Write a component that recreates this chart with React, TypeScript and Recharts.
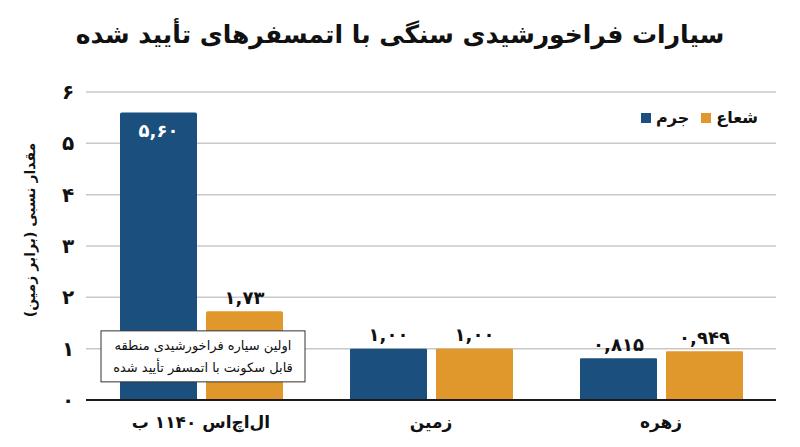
import { Bar, BarChart, CartesianGrid, LabelList, ReferenceDot, XAxis, YAxis } from "recharts";

const planets = ["ال‌اچ‌اس ۱۱۴۰ ب", "زمین", "زهره"];
const massValues = [5.6, 1.0, 0.815];
const radiusValues = [1.73, 1.0, 0.949];
const yTicks = [0, 1, 2, 3, 4, 5, 6];

const chartTitle = "سیارات فراخورشیدی سنگی با اتمسفرهای تأیید شده";
const yTitle = "مقدار نسبی (برابر زمین)";
const noteLines = ["اولین سیاره فراخورشیدی منطقه", "قابل سکونت با اتمسفر تأیید شده"];

const massColor = "#1b4f7e";
const radiusColor = "#e0982c";
const font = "'DejaVu Sans', sans-serif";

const data = planets.map((name, i) => ({ name, mass: massValues[i], radius: radiusValues[i] }));

const faDigits = "۰۱۲۳۴۵۶۷۸۹";
const toFa = (s: string) => s.replace(/\d/g, (d) => faDigits[Number(d)]).replace(".", ",");
const fmt = (v: number) => toFa(v.toFixed(v < 1 ? 3 : 2));

function ValueLabel(props: any) {
  const { x, y, width, value } = props;
  const inside = value > 4;
  return (
    <text
      x={x + width / 2}
      y={inside ? y + 18 : y - 14}
      textAnchor="middle"
      dominantBaseline="central"
      fontFamily={font}
      fontWeight={700}
      fontSize={18}
      fill={inside ? "#fff" : "#111"}
    >
      {fmt(value)}
    </text>
  );
}

function NoteBox(props: any) {
  const { cx, cy } = props;
  const w = 204;
  const h = 51;
  return (
    <g>
      <rect x={cx + 2 - w / 2} y={cy - h / 2} width={w} height={h} fill="#fff" stroke="#333" strokeWidth={1} />
      {noteLines.map((line, i) => (
        <text
          key={i}
          x={cx + 2}
          y={cy - 11 + i * 22}
          textAnchor="middle"
          dominantBaseline="central"
          direction="rtl"
          fontFamily={font}
          fontSize={13}
          fill="#111"
        >
          {line}
        </text>
      ))}
    </g>
  );
}

function LegendBox() {
  const items = [
    { label: "جرم", color: massColor },
    { label: "شعاع", color: radiusColor },
  ];
  return (
    <div
      style={{
        position: "absolute",
        left: 641,
        top: 108,
        display: "flex",
        alignItems: "center",
        gap: 12,
        fontFamily: font,
        fontWeight: 700,
        fontSize: 16,
        color: "#111",
      }}
    >
      {items.map((it) => (
        <div key={it.label} style={{ display: "flex", alignItems: "center", gap: 5 }}>
          <span style={{ width: 10, height: 10, background: it.color, display: "inline-block" }} />
          <span>{it.label}</span>
        </div>
      ))}
    </div>
  );
}

export default function App() {
  return (
    <div style={{ position: "fixed", left: 0, top: 0, width: 800, height: 447, background: "#fff" }}>
      <div
        dir="rtl"
        style={{
          position: "absolute",
          top: 20,
          width: 800,
          textAlign: "center",
          fontFamily: font,
          fontWeight: 700,
          fontSize: 25,
          color: "#111",
        }}
      >
        {chartTitle}
      </div>
      <div
        dir="rtl"
        style={{
          position: "absolute",
          left: 30,
          top: 230,
          transform: "translate(-50%, -50%) rotate(-90deg)",
          whiteSpace: "nowrap",
          fontFamily: font,
          fontWeight: 700,
          fontSize: 14,
          color: "#111",
        }}
      >
        {yTitle}
      </div>
      <BarChart
        width={800}
        height={447}
        data={data}
        margin={{ top: 92, right: 24, bottom: 0, left: 0 }}
        barSize={77}
        barGap={9}
      >
        <CartesianGrid vertical={false} stroke="#c8c8c8" strokeWidth={1.5} />
        <XAxis
          dataKey="name"
          height={47}
          axisLine={{ stroke: "#1a1a1a", strokeWidth: 2 }}
          tickLine={false}
          tick={(p: any) => (
            <text
              x={p.x}
              y={p.y + 14}
              textAnchor="middle"
              dominantBaseline="central"
              direction="rtl"
              fontFamily={font}
              fontWeight={700}
              fontSize={17}
              fill="#111"
            >
              {p.payload.value}
            </text>
          )}
        />
        <YAxis
          width={86}
          domain={[0, 6]}
          ticks={yTicks}
          axisLine={false}
          tickLine={false}
          tick={(p: any) => (
            <text
              x={68}
              y={p.y}
              textAnchor="middle"
              dominantBaseline="central"
              fontFamily={font}
              fontWeight={700}
              fontSize={20}
              fill="#111"
            >
              {toFa(String(p.payload.value))}
            </text>
          )}
        />
        <Bar dataKey="mass" name="جرم" fill={massColor} isAnimationActive={false}>
          <LabelList dataKey="mass" content={<ValueLabel />} />
        </Bar>
        <Bar dataKey="radius" name="شعاع" fill={radiusColor} isAnimationActive={false}>
          <LabelList dataKey="radius" content={<ValueLabel />} />
        </Bar>
        <ReferenceDot x={planets[0]} y={0.85} ifOverflow="visible" shape={<NoteBox />} />
      </BarChart>
      <LegendBox />
    </div>
  );
}
